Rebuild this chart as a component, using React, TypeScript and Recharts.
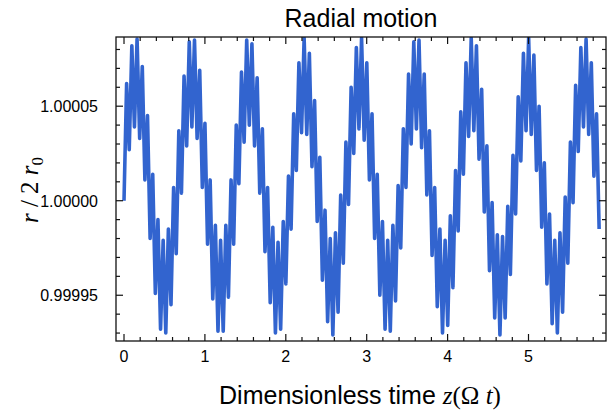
import { LineChart, Line, XAxis, YAxis } from "recharts";

// sampling interval of the time series, in units of z(Ω t)
const sampleStep = 0.03227;

// r / 2 r0 - 1, in units of 1e-5
const radialDeviation = [
  0.0, 6.2, 2.7, 8.2, 3.9, 8.55, 3.3, 7.1, 1.1, 4.5, -2.0, 1.4, -4.9, -1.0, -6.8, -2.1,
  -7.0, -1.5, -5.5, 0.7, -2.8, 3.7, 0.4, 6.6, 2.9, 8.4, 3.9, 8.5, 3.3, 6.9, 0.7, 4.1,
  -2.3, 1.1, -5.2, -1.3, -6.9, -2.1, -6.9, -1.3, -5.1, 1.1, -2.3, 4.0, 0.9, 6.8, 3.1, 8.5,
  4.0, 8.3, 2.9, 6.5, 0.4, 3.8, -2.7, 0.7, -5.4, -1.4, -7.0, -2.2, -6.8, -1.1, -4.4, 1.3,
  -1.5, 4.6, 1.6, 7.3, 3.6, 8.6, 3.5, 7.8, 1.8, 5.3, -1.1, 2.3, -4.2, -0.5, -6.4, -2.0,
  -7.1, -1.7, -5.9, 0.3, -3.3, 3.1, -0.2, 6.0, 2.5, 8.1, 3.8, 8.6, 3.2, 7.3, 1.1, 4.6,
  -2.0, 1.4, -5.0, -1.1, -6.8, -2.1, -6.9, -1.3, -5.3, 0.8, -2.5, 3.8, 0.7, 6.7, 3.0, 8.4,
  3.8, 8.5, 2.8, 6.7, 0.3, 3.7, -2.9, 0.7, -5.6, -1.5, -7.0, -2.1, -6.6, -0.8, -4.6, 1.6,
  -1.6, 4.7, 1.4, 7.3, 3.4, 8.6, 3.7, 8.2, 2.2, 5.9, -0.6, 2.9, -3.7, -0.1, -6.2, -1.8,
  -7.1, -1.9, -6.2, -0.3, -3.9, 2.4, -0.7, 5.5, 2.1, 7.8, 3.7, 8.6, 3.5, 7.7, 1.6, 5.0,
  -1.4, 2.0, -4.4, -0.7, -6.5, -2.1, -7.0, -1.7, -5.9, 0.2, -3.3, 3.1, -0.1, 6.1, 2.6, 8.1,
  3.9, 8.55, 3.5, 7.3, 1.3, 4.6, -1.5,
];

const xTicks = [
  0, 0.2, 0.4, 0.6, 0.8, 1, 1.2, 1.4, 1.6, 1.8, 2, 2.2, 2.4, 2.6, 2.8, 3, 3.2, 3.4, 3.6, 3.8,
  4, 4.2, 4.4, 4.6, 4.8, 5, 5.2, 5.4, 5.6, 5.8,
];
const xMajorTicks = [0, 1, 2, 3, 4, 5];
const yTicks = [-7, -6, -5, -4, -3, -2, -1, 0, 1, 2, 3, 4, 5, 6, 7, 8];
const yMajorTicks = [-5, 0, 5];

const xDomain = [-0.099, 5.958];
const yDomain = [-7.42, 8.66];

const data = radialDeviation.map((dev, i) => ({ t: i * sampleStep, dev }));

const W = 608;
const H = 414;
const PLOT_LEFT = 116;
const PLOT_RIGHT = 606;
const PLOT_TOP = 37;
const PLOT_BOTTOM = 341;

const sans = "'Liberation Sans', Arial, sans-serif";
const serif = "'Liberation Serif', 'Times New Roman', serif";
const lineColor = "#3264cf";
const frameColor = "#111";

const formatY = (v: number) => (1 + v / 1e5).toFixed(5);

// frame ticks point inward on all four sides; labels only bottom and left
const XTick = (props: any) => {
  const { x, payload } = props;
  const major = xMajorTicks.includes(payload.value);
  const len = major ? 7 : 4;
  return (
    <g>
      <line x1={x} x2={x} y1={PLOT_BOTTOM} y2={PLOT_BOTTOM - len} stroke={frameColor} strokeWidth={1.2} />
      <line x1={x} x2={x} y1={PLOT_TOP} y2={PLOT_TOP + len} stroke={frameColor} strokeWidth={1.2} />
      {major && (
        <text x={x} y={PLOT_BOTTOM + 21} textAnchor="middle" fontFamily={sans} fontSize={16} fill="#000">
          {payload.value}
        </text>
      )}
    </g>
  );
};

const YTick = (props: any) => {
  const { y, payload } = props;
  const major = yMajorTicks.includes(payload.value);
  const len = major ? 7 : 4;
  return (
    <g>
      <line x1={PLOT_LEFT} x2={PLOT_LEFT + len} y1={y} y2={y} stroke={frameColor} strokeWidth={1.2} />
      <line x1={PLOT_RIGHT} x2={PLOT_RIGHT - len} y1={y} y2={y} stroke={frameColor} strokeWidth={1.2} />
      {major && (
        <text x={98} y={y + 6} textAnchor="end" fontFamily={sans} fontSize={16} fill="#000">
          {formatY(payload.value)}
        </text>
      )}
    </g>
  );
};

export default function App() {
  return (
    <div style={{ position: "absolute", left: 0, top: 0, width: W, height: H, background: "#fff" }}>
      <LineChart
        width={W}
        height={H}
        data={data}
        margin={{ top: PLOT_TOP, right: W - PLOT_RIGHT, bottom: H - PLOT_BOTTOM - 30, left: PLOT_LEFT - 60 }}
      >
        <XAxis
          dataKey="t"
          type="number"
          domain={xDomain}
          ticks={xTicks}
          interval={0}
          allowDataOverflow
          height={30}
          tickLine={false}
          axisLine={false}
          tick={XTick}
        />
        <YAxis
          type="number"
          domain={yDomain}
          ticks={yTicks}
          interval={0}
          allowDataOverflow
          width={60}
          tickLine={false}
          axisLine={false}
          tick={YTick}
        />
        <Line
          type="linear"
          dataKey="dev"
          stroke={lineColor}
          strokeWidth={3.6}
          strokeLinejoin="round"
          dot={false}
          isAnimationActive={false}
        />
      </LineChart>
      <svg width={W} height={H} style={{ position: "absolute", left: 0, top: 0, pointerEvents: "none" }}>
        <rect
          x={PLOT_LEFT}
          y={PLOT_TOP}
          width={PLOT_RIGHT - PLOT_LEFT}
          height={PLOT_BOTTOM - PLOT_TOP}
          fill="none"
          stroke={frameColor}
          strokeWidth={1.3}
        />
        <text x={(PLOT_LEFT + PLOT_RIGHT) / 2} y={27} textAnchor="middle" fontFamily={sans} fontSize={25} fill="#000">
          Radial motion
        </text>
        <text x={360} y={404} textAnchor="middle" fontSize={25} fill="#000">
          <tspan fontFamily={sans}>Dimensionless time </tspan>
          <tspan fontFamily={serif} fontStyle="italic">z</tspan>
          <tspan fontFamily={serif}>(Ω </tspan>
          <tspan fontFamily={serif} fontStyle="italic">t</tspan>
          <tspan fontFamily={serif}>)</tspan>
        </text>
        <text transform="translate(38,190) rotate(-90)" textAnchor="middle" fontFamily={serif} fontSize={25} fill="#000">
          <tspan fontStyle="italic">r</tspan>
          <tspan> / 2 </tspan>
          <tspan fontStyle="italic">r</tspan>
          <tspan fontSize={17} dy={5}>0</tspan>
        </text>
      </svg>
    </div>
  );
}
